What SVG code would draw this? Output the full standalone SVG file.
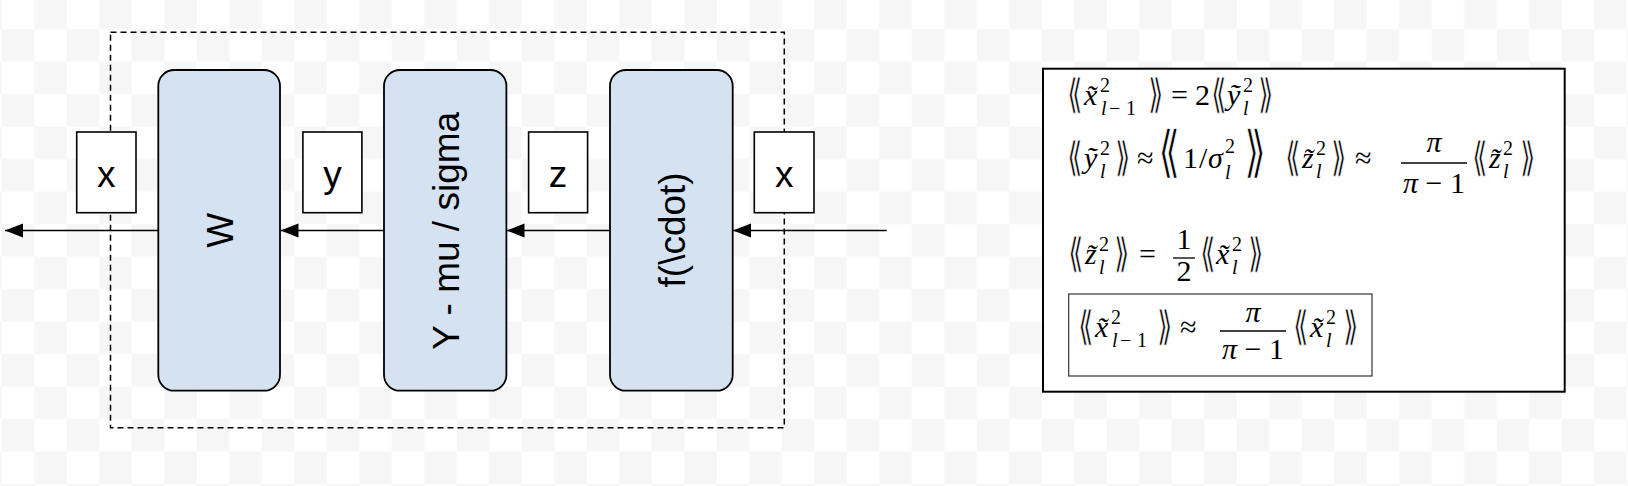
<svg xmlns="http://www.w3.org/2000/svg" width="1628" height="486" viewBox="0 0 1628 486">
<defs>
<pattern id="chk" patternUnits="userSpaceOnUse" x="1.7" y="-3.4" width="65" height="65">
<rect width="65" height="65" fill="#ffffff"/>
<rect x="32.5" y="0" width="32.5" height="32.5" fill="#f6f6f6"/>
<rect x="0" y="32.5" width="32.5" height="32.5" fill="#f6f6f6"/>
</pattern>
<marker id="ah" markerUnits="userSpaceOnUse" markerWidth="20" markerHeight="16" refX="18" refY="7" orient="auto">
<path d="M0,0 L18,7 L0,14 z" fill="#000"/>
</marker>
<style>
.blk{fill:#d4e2f2;stroke:#000;stroke-width:1.8}
.lbl{fill:#fff;stroke:#000;stroke-width:1.6}
.t{font-family:"Liberation Sans",Arial,sans-serif;font-size:37px;fill:#000}
.con{fill:none;stroke:#000;stroke-width:1.6}
.m{font-family:"Liberation Serif","Times New Roman",serif;font-size:30px;fill:#000}
.i{font-style:italic}
.s{font-size:20px}
.br{font-family:"DejaVu Sans",sans-serif;font-size:28px;fill:#000;stroke:#fff;stroke-width:0.5}
.bb{font-family:"DejaVu Sans",sans-serif;font-size:40px;fill:#000;stroke:#fff;stroke-width:0.7}
.bar{stroke:#000;stroke-width:1.3}
</style>
</defs>
<rect width="1628" height="486" fill="url(#chk)"/>

<g id="frame">
<rect x="110.5" y="32.3" width="673.8" height="395.4" fill="none" stroke="#000" stroke-width="1.5" stroke-dasharray="6 4"/>
</g>

<g id="connectors">
<path class="con" d="M886.7,230.5 H733" marker-end="url(#ah)"/>
<path class="con" d="M610,230.5 H506.5" marker-end="url(#ah)"/>
<path class="con" d="M384,230.5 H280.5" marker-end="url(#ah)"/>
<path class="con" d="M158.3,230.5 H5" marker-end="url(#ah)"/>
</g>

<g id="node-W">
<rect class="blk" x="158.3" y="70" width="121.7" height="320.7" rx="16"/>
<text class="t" text-anchor="middle" transform="translate(232.8,230.3) rotate(-90)">W</text>
</g>
<g id="node-norm">
<rect class="blk" x="384" y="70" width="122.4" height="320.7" rx="16"/>
<text class="t" text-anchor="middle" transform="translate(458.7,230.8) rotate(-90)">Y - mu / sigma</text>
</g>
<g id="node-f">
<rect class="blk" x="610" y="70" width="122.7" height="320.7" rx="16"/>
<text class="t" text-anchor="middle" transform="translate(685.3,229.9) rotate(-90)">f(\cdot)</text>
</g>

<g id="label-x-out">
<rect class="lbl" x="76.7" y="132" width="59.3" height="80.7"/>
<text class="t" x="106.3" y="186.7" text-anchor="middle">x</text>
</g>
<g id="label-y">
<rect class="lbl" x="302.9" y="132" width="59" height="80.7"/>
<text class="t" x="332.4" y="186.7" text-anchor="middle">y</text>
</g>
<g id="label-z">
<rect class="lbl" x="528.6" y="132" width="59" height="80.7"/>
<text class="t" x="558.1" y="186.7" text-anchor="middle">z</text>
</g>
<g id="label-x-in">
<rect class="lbl" x="754.3" y="132" width="59.7" height="80.7"/>
<text class="t" x="784.2" y="186.7" text-anchor="middle">x</text>
</g>

<g id="equations">
<rect x="1043" y="68.7" width="521.7" height="323" fill="#fff" stroke="#000" stroke-width="2"/>
<rect x="1068.7" y="294" width="303.3" height="82" fill="#fff" stroke="#333" stroke-width="1.2"/>

<!-- line 1 -->
<text class="br" transform="translate(1067,107.5) scale(1,1.45)">⟪</text>
<text class="m i" x="1084" y="105">x&#x303;</text>
<text class="m s" x="1100" y="92">2</text>
<text class="m s" x="1101 1109 1126" y="115"><tspan class="i">l</tspan>−1</text>
<text class="br" transform="translate(1148,107.5) scale(1,1.45)">⟫</text>
<text class="m" x="1171" y="105">=</text>
<text class="m" x="1195" y="105">2</text>
<text class="br" transform="translate(1211,107.5) scale(1,1.45)">⟪</text>
<text class="m i" x="1227" y="105">y&#x303;</text>
<text class="m s" x="1243" y="92">2</text>
<text class="m s i" x="1243" y="115">l</text>
<text class="br" transform="translate(1258,107.5) scale(1,1.45)">⟫</text>

<!-- line 2 -->
<text class="br" transform="translate(1067,170.5) scale(1,1.45)">⟪</text>
<text class="m i" x="1084" y="168">y&#x303;</text>
<text class="m s" x="1100" y="155">2</text>
<text class="m s i" x="1100" y="178">l</text>
<text class="br" transform="translate(1115,170.5) scale(1,1.45)">⟫</text>
<text class="m" x="1137" y="168">≈</text>
<text class="bb" transform="translate(1158,171) scale(1,1.4)">⟪</text>
<text class="m" x="1183" y="168">1</text>
<text class="m" x="1199" y="168">/</text>
<text class="m i" x="1208" y="168">σ</text>
<text class="m s" x="1225" y="153">2</text>
<text class="m s i" x="1225" y="179">l</text>
<text class="bb" transform="translate(1244,171) scale(1,1.4)">⟫</text>
<text class="br" transform="translate(1285,170.5) scale(1,1.45)">⟪</text>
<text class="m i" x="1302" y="168">z&#x303;</text>
<text class="m s" x="1316" y="155">2</text>
<text class="m s i" x="1316" y="178">l</text>
<text class="br" transform="translate(1331,170.5) scale(1,1.45)">⟫</text>
<text class="m" x="1355" y="168">≈</text>
<text class="m i" x="1434" y="152" text-anchor="middle">π</text>
<line class="bar" x1="1401" y1="163" x2="1467" y2="163"/>
<text class="m" x="1434" y="193" text-anchor="middle"><tspan class="i">π</tspan> − 1</text>
<text class="br" transform="translate(1472,170.5) scale(1,1.45)">⟪</text>
<text class="m i" x="1489" y="168">z&#x303;</text>
<text class="m s" x="1503" y="155">2</text>
<text class="m s i" x="1503" y="178">l</text>
<text class="br" transform="translate(1520,170.5) scale(1,1.45)">⟫</text>

<!-- line 3 -->
<text class="br" transform="translate(1068,266.5) scale(1,1.45)">⟪</text>
<text class="m i" x="1085" y="264">z&#x303;</text>
<text class="m s" x="1099" y="251">2</text>
<text class="m s i" x="1099" y="274">l</text>
<text class="br" transform="translate(1114,266.5) scale(1,1.45)">⟫</text>
<text class="m" x="1139" y="264">=</text>
<text class="m" x="1184" y="249" text-anchor="middle">1</text>
<line class="bar" x1="1173" y1="258" x2="1195" y2="258"/>
<text class="m" x="1184" y="281" text-anchor="middle">2</text>
<text class="br" transform="translate(1200,266.5) scale(1,1.45)">⟪</text>
<text class="m i" x="1216" y="264">x&#x303;</text>
<text class="m s" x="1232" y="251">2</text>
<text class="m s i" x="1232" y="274">l</text>
<text class="br" transform="translate(1248,266.5) scale(1,1.45)">⟫</text>

<!-- line 4 -->
<text class="br" transform="translate(1078,339.5) scale(1,1.45)">⟪</text>
<text class="m i" x="1095" y="337">x&#x303;</text>
<text class="m s" x="1111" y="324">2</text>
<text class="m s" x="1112 1120 1137" y="347"><tspan class="i">l</tspan>−1</text>
<text class="br" transform="translate(1157,339.5) scale(1,1.45)">⟫</text>
<text class="m" x="1180" y="337">≈</text>
<text class="m i" x="1253" y="322" text-anchor="middle">π</text>
<line class="bar" x1="1220" y1="331" x2="1286" y2="331"/>
<text class="m" x="1253" y="359" text-anchor="middle"><tspan class="i">π</tspan> − 1</text>
<text class="br" transform="translate(1293,339.5) scale(1,1.45)">⟪</text>
<text class="m i" x="1310" y="337">x&#x303;</text>
<text class="m s" x="1326" y="324">2</text>
<text class="m s i" x="1326" y="347">l</text>
<text class="br" transform="translate(1343,339.5) scale(1,1.45)">⟫</text>
</g>
</svg>
